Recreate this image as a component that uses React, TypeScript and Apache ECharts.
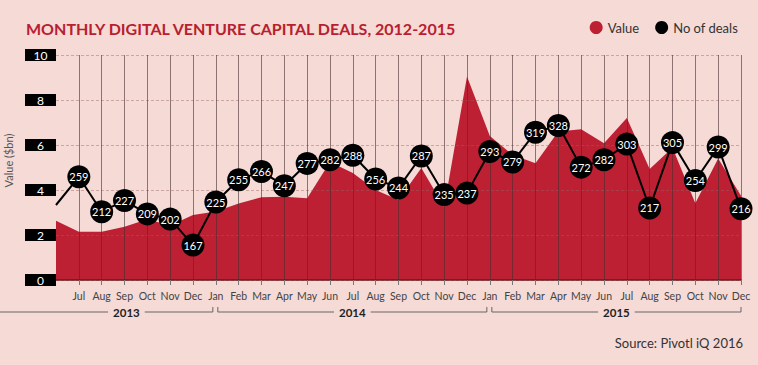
import React, { useEffect, useRef } from "react";
import * as echarts from "echarts";

const months = ["Jun", "Jul", "Aug", "Sep", "Oct", "Nov", "Dec",
  "Jan", "Feb", "Mar", "Apr", "May", "Jun", "Jul", "Aug", "Sep", "Oct", "Nov", "Dec",
  "Jan", "Feb", "Mar", "Apr", "May", "Jun", "Jul", "Aug", "Sep", "Oct", "Nov", "Dec"];
const years = [2013, 2013, 2013, 2013, 2013, 2013, 2013,
  2014, 2014, 2014, 2014, 2014, 2014, 2014, 2014, 2014, 2014, 2014, 2014,
  2015, 2015, 2015, 2015, 2015, 2015, 2015, 2015, 2015, 2015, 2015, 2015];
const categories = months.map((m, i) => `${m} ${years[i]}`);

const valueBn = [2.63, 2.15, 2.15, 2.37, 2.7, 2.42, 2.89,
  3.04, 3.4, 3.68, 3.7, 3.63, 5.25, 4.76, 4.0, 3.56, 4.98, 3.26, 9.05,
  6.4, 5.56, 5.19, 6.6, 6.7, 6.08, 7.2, 4.93, 5.88, 3.41, 5.4, 3.75];
const deals = [221, 259, 212, 227, 209, 202, 167,
  225, 255, 266, 247, 277, 282, 288, 256, 244, 287, 235, 237,
  293, 279, 319, 328, 272, 282, 303, 217, 305, 254, 299, 216];

const yearLabels = ["2013", "2014", "2015"];
const titleText = "MONTHLY DIGITAL VENTURE CAPITAL DEALS, 2012-2015";
const sourceText = "Source: Pivotl iQ 2016";

const BG = "#f5dad6";
const RED = "#bd1f33";

export default function App() {
  const ref = useRef<HTMLDivElement>(null);
  useEffect(() => {
    document.body.style.margin = "0";
    const chart = echarts.init(ref.current!, null, { renderer: "svg" });
    const option: any = {
      animation: false,
      backgroundColor: BG,
      textStyle: { fontFamily: "Lato" },
      title: {
        text: titleText,
        left: 21,
        top: 15,
        textStyle: { color: "#b8202f", fontSize: 16, fontWeight: "bold", fontFamily: "Lato" },
      },
      legend: {
        right: 15,
        top: 16,
        icon: "circle",
        itemWidth: 13,
        itemHeight: 13,
        itemGap: 16,
        textStyle: { color: "#333", fontSize: 13, fontFamily: "Lato" },
        data: ["Value", "No of deals"],
      },
      grid: { left: 56, right: 17, top: 55, bottom: 85, outerBoundsMode: "none" },
      xAxis: {
        type: "category",
        data: categories,
        boundaryGap: false,
        z: 3,
        axisLine: { lineStyle: { color: "#6b1a1f", width: 1.5 } },
        axisTick: {
          length: 5,
          lineStyle: { color: "#777" },
          interval: (i: number) => i > 0,
        },
        axisLabel: {
          color: "#444",
          fontSize: 10.5,
          margin: 10,
          interval: 0,
          formatter: (v: string, i: number) => (i === 0 ? "" : v.split(" ")[0]),
        },
        splitLine: {
          show: true,
          interval: (i: number) => i > 0,
          lineStyle: { color: "rgba(70,45,45,0.6)", width: 1 },
        },
      },
      yAxis: [
        {
          type: "value",
          min: 0,
          max: 10,
          interval: 2,
          z: 3,
          name: "Value ($bn)",
          nameLocation: "middle",
          nameGap: 41,
          nameTextStyle: { color: "#555", fontSize: 11, fontFamily: "Lato", padding: [0, 0, 0, 14] },
          axisLine: { show: false },
          axisTick: { show: false },
          axisLabel: {
            margin: 0,
            formatter: (v: number) => `{b|${v}}`,
            rich: {
              b: {
                color: "#fff",
                fontSize: 12,
                fontFamily: "Lato",
                backgroundColor: "#000",
                width: 31,
                height: 12,
                lineHeight: 12,
                align: "center",
              },
            },
          },
          splitLine: {
            lineStyle: { color: "rgba(150,100,100,0.45)", type: [3, 2], width: 1 },
          },
        },
        {
          type: "value",
          min: 120,
          max: 423,
          show: false,
          splitLine: { show: false },
        },
      ],
      series: [
        {
          name: "Value",
          type: "line",
          data: valueBn,
          yAxisIndex: 0,
          symbol: "none",
          lineStyle: { width: 0 },
          itemStyle: { color: RED },
          areaStyle: { color: RED, opacity: 1 },
          z: 2,
        },
        {
          name: "No of deals",
          type: "line",
          yAxisIndex: 1,
          data: deals.map((d, i) =>
            i === 0 ? { value: d, symbol: "none", label: { show: false } } : d
          ),
          symbol: "circle",
          symbolSize: 23,
          showAllSymbol: true,
          itemStyle: { color: "#000" },
          lineStyle: { color: "#000", width: 2 },
          label: {
            show: true,
            position: "inside",
            color: "#fff",
            fontSize: 11,
            fontFamily: "Lato",
          },
          z: 5,
        },
      ],
    };
    chart.setOption(option);

    // Year brackets under the month labels
    const xOf = (c: string) => chart.convertToPixel({ xAxisIndex: 0 }, c) as number;
    const y0 = chart.convertToPixel({ yAxisIndex: 0 }, 0) as number;
    const by = y0 + 32;
    const graphics: any[] = [];
    yearLabels.forEach((yl, k) => {
      const idx = categories.map((c, i) => i).filter((i) => String(years[i]) === yl);
      const first = idx[0];
      const last = idx[idx.length - 1];
      const isFirst = k === 0;
      const isLast = k === yearLabels.length - 1;
      const start = isFirst ? 0 : xOf(categories[first]) + 2;
      const end = isLast ? xOf(categories[last]) : xOf(categories[last + 1]) - 3;
      const textStart = isFirst ? xOf(categories[first]) - 16 : start;
      const pts: number[][] = [];
      if (!isFirst) pts.push([start, by - 5]);
      pts.push([start, by], [end, by], [end, by - 5]);
      graphics.push({
        type: "polyline",
        shape: { points: pts },
        style: { stroke: "#666", lineWidth: 1, fill: null },
        silent: true,
      });
      graphics.push({
        type: "text",
        x: (textStart + end) / 2,
        y: by,
        style: {
          text: yl,
          fill: "#222",
          fontSize: 11.5,
          fontWeight: "bold",
          fontFamily: "Lato",
          align: "center",
          verticalAlign: "middle",
          backgroundColor: BG,
          padding: [0, 5],
        },
        z: 10,
      });
    });
    graphics.push({
      type: "text",
      right: 15,
      top: 336,
      style: { text: sourceText, fill: "#333", fontSize: 13, fontFamily: "Lato" },
    });
    chart.setOption({ graphic: graphics });
    return () => chart.dispose();
  }, []);
  return <div ref={ref} style={{ width: 758, height: 365 }} />;
}
